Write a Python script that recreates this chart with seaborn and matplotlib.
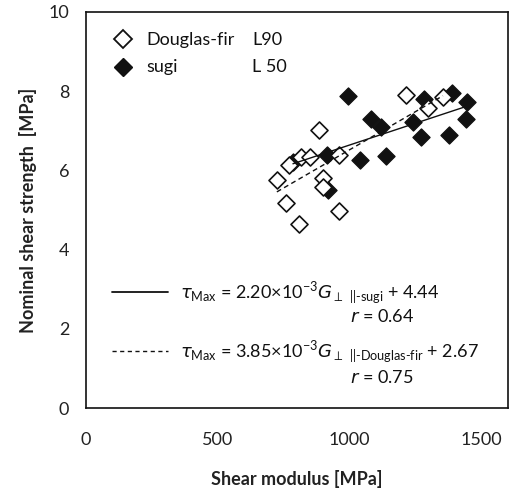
import numpy as np
import pandas as pd
import matplotlib
matplotlib.use("Agg")
import matplotlib.pyplot as plt
import seaborn as sns

# data
df_G = [724, 770, 815, 849, 959, 884, 1214, 1297, 1354, 899, 899, 758, 959, 808]
df_tau = [5.76, 6.14, 6.34, 6.34, 6.39, 7.02, 7.90, 7.58, 7.85, 5.81, 5.58, 5.18, 4.97, 4.65]

sugi_G = [994, 1081, 1119, 1240, 1282, 1388, 1445, 1441, 1270, 1377, 1039, 1138, 914, 785, 918]
sugi_tau = [7.88, 7.30, 7.10, 7.22, 7.80, 7.95, 7.73, 7.30, 6.84, 6.89, 6.26, 6.36, 6.39, 6.21, 5.51]

# regression coefficients (slope, intercept)
sugi_fit = (2.20e-3, 4.44)
df_fit = (3.85e-3, 2.67)

x_ticks = [0, 500, 1000, 1500]
y_ticks = [0, 2, 4, 6, 8, 10]

sns.set_style("white")
plt.rcParams["font.family"] = ["Lato", "DejaVu Sans"]
plt.rcParams["mathtext.fontset"] = "custom"
plt.rcParams["mathtext.rm"] = "Lato"
plt.rcParams["mathtext.it"] = "DejaVu Sans:italic"

fig, ax = plt.subplots(figsize=(5.15, 4.93), dpi=100)
fig.subplots_adjust(left=0.167, right=0.986, top=0.976, bottom=0.172)

sugi = pd.DataFrame({"G": sugi_G, "tau": sugi_tau})
dfir = pd.DataFrame({"G": df_G, "tau": df_tau})

sns.scatterplot(data=sugi, x="G", y="tau", ax=ax, marker="D", s=75,
                color="#111111", edgecolor="#111111", linewidth=1.0, zorder=3)
sns.scatterplot(data=dfir, x="G", y="tau", ax=ax, marker="D", s=75,
                facecolor="white", edgecolor="#111111", linewidth=1.2, zorder=3)

# regression lines over each data range
for d, fit, ls in [(sugi, sugi_fit, "-"), (dfir, df_fit, (0, (3.5, 2.5)))]:
    gx = np.array([d["G"].min(), d["G"].max()])
    line = pd.DataFrame({"G": gx, "tau": fit[0] * gx + fit[1]})
    sns.lineplot(data=line, x="G", y="tau", ax=ax, color="#111111",
                 lw=1.0, linestyle=ls, zorder=4)

ax.set_xlim(0, 1600)
ax.set_ylim(0, 10)
ax.set_xticks(x_ticks)
ax.set_yticks(y_ticks)
ax.tick_params(direction="in", length=5, color="#999999", labelsize=13,
               labelcolor="#222222")
ax.tick_params(axis="x", pad=17)
ax.tick_params(axis="y", pad=12)
for sp in ax.spines.values():
    sp.set_color("#111111")
    sp.set_linewidth(1.2)

ax.set_xlabel("Shear modulus [MPa]", fontsize=13, fontweight="bold",
              color="#222222", labelpad=16)
ax.set_ylabel("Nominal shear strength  [MPa]", fontsize=13, fontweight="bold",
              color="#222222", labelpad=8)


def px(xp, yp):
    # convert picture pixels to axes fraction
    return ((xp - 86) / (508 - 86), (408 - yp) / (408 - 12))


# hand-placed legend
kw = dict(transform=ax.transAxes, fontsize=13, va="center", color="#111111")
mx, my = px(123, 39)
ax.plot([mx], [my], transform=ax.transAxes, marker="D", ms=9.5, mfc="white",
        mec="#111111", mew=1.3, clip_on=False)
ax.text(*px(146, 40), "Douglas-fir", **kw)
ax.text(*px(252, 40), "L90", **kw)
mx, my = px(123, 67)
ax.plot([mx], [my], transform=ax.transAxes, marker="D", ms=9.5, mfc="#111111",
        mec="#111111", clip_on=False)
ax.text(*px(146, 67), "sugi", **kw)
ax.text(*px(252, 67), "L 50", **kw)

# equation annotations
a0, b0 = px(112, 292)
a1, _ = px(168, 292)
ax.plot([a0, a1], [b0, b0], transform=ax.transAxes, color="#111111", lw=1.3)
a0, b0 = px(112, 351)
ax.plot([a0, a1], [b0, b0], transform=ax.transAxes, color="#111111", lw=1.0,
        ls=(0, (3, 2.5)))

eq1 = r"$\tau_{\mathrm{Max}}$ = 2.20×10$^{\mathrm{-3}}$$G_{\perp\ ||\mathrm{\text{-}sugi}}$ + 4.44"
eq2 = r"$\tau_{\mathrm{Max}}$ = 3.85×10$^{\mathrm{-3}}$$G_{\perp\ ||\mathrm{\text{-}Douglas\text{-}fir}}$ + 2.67"
ax.text(*px(180, 293), eq1, **kw)
ax.text(*px(350, 316), r"$r$ = 0.64", **kw)
ax.text(*px(180, 351), eq2, **kw)
ax.text(*px(350, 377), r"$r$ = 0.75", **kw)

fig.savefig("out.png", dpi=100)
